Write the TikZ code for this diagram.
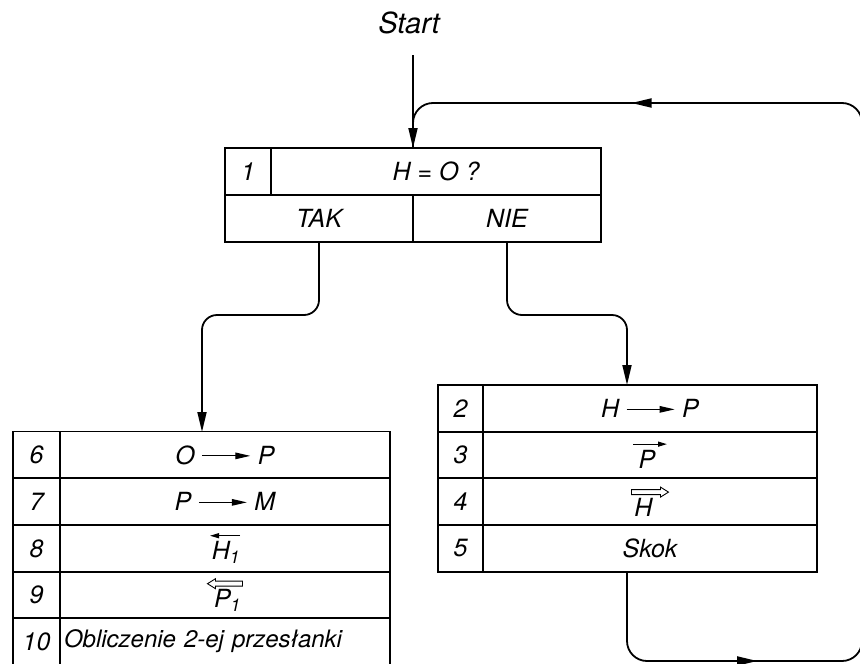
\documentclass[tikz,border=0pt]{standalone}
\usepackage{fontspec}
\setmainfont{TeX Gyre Heros}
\usepackage{tikz}
\usetikzlibrary{positioning}
\usetikzlibrary{arrows.meta,decorations.markings}

\tikzset{glyph/.style={draw=none,inner sep=0pt,outer sep=0pt,minimum width=0pt,minimum height=0pt}}

% long arrow inside a row
\newcommand{\lngarr}{\tikz[baseline=-0.33em]\draw[line width=1.2pt,-{Triangle[length=15pt,width=6.5pt]}] (0pt,0pt) -- (48pt,0pt);}
% thin arrow over a letter: text, from, to
\newcommand{\overarr}[3]{\tikz[baseline=(v.base)]{\node[glyph] (v) {#1};
  \draw[line width=1.2pt,-{Triangle[length=9pt,width=5pt]}] ([xshift=#2,yshift=6pt]v.north) -- ([xshift=#3,yshift=6pt]v.north);}}
% hollow arrow over a letter: text, tail, neck, tip
\newcommand{\hollowarr}[4]{\tikz[baseline=(v.base)]{\node[glyph] (v) {#1};
  \begin{scope}[shift={(v.north)}]
  \draw[line width=0.9pt] (#2,3.5pt) -- (#3,3.5pt) -- (#3,1pt) -- (#4,6pt) -- (#3,11pt) -- (#3,8.5pt) -- (#2,8.5pt) -- cycle;
  \end{scope}}}

\begin{document}
\begin{tikzpicture}[x=1pt,y=-1pt,
    cell/.style = {draw,line width=1.8pt,inner sep=0pt,outer sep=0pt,minimum height=47pt,
                   font=\fontsize{25}{28}\selectfont\itshape},
    arr/.style = {line width=1.8pt,rounded corners=15pt,-{Triangle[length=20pt,width=9pt]}}]

    \useasboundingbox (0,0) rectangle (860,664);

    \node[font=\fontsize{29}{32}\selectfont\itshape] (start) at (409,23) {Start};
    \coordinate (s0) at (413,55);
    \coordinate (in1) at (413,148);

    % decision
    \node[cell,minimum width=46pt]  (n1)  at (248,171.5) {1};
    \node[cell,minimum width=330pt] (q1)  at (436,171.5) {H = O ?};
    \node[cell,minimum width=188pt] (tak) at (319,218.5) {TAK};
    \node[cell,minimum width=188pt] (nie) at (507,218.5) {NIE};

    % right column
    \node[cell,minimum width=45pt]  (n2) at (460.5,408.5) {2};
    \node[cell,minimum width=334pt] (r2) at (650,408.5) {H \lngarr\ P};
    \node[cell,minimum width=45pt]  (n3) at (460.5,455) {3};
    \node[cell,minimum width=334pt] (r3) at (650,455) {\overarr{P}{-14pt}{20pt}};
    \node[cell,minimum width=45pt]  (n4) at (460.5,501.5) {4};
    \node[cell,minimum width=334pt] (r4) at (650,501.5) {\hollowarr{H}{-12pt}{17pt}{25pt}};
    \node[cell,minimum width=45pt]  (n5) at (460.5,548.5) {5};
    \node[cell,minimum width=334pt] (r5) at (650,548.5) {Skok};

    % left column
    \node[cell,minimum width=47pt]  (n6)  at (36.5,455) {6};
    \node[cell,minimum width=330pt] (r6)  at (225,455) {O \lngarr\ P};
    \node[cell,minimum width=47pt]  (n7)  at (36.5,501.5) {7};
    \node[cell,minimum width=330pt] (r7)  at (225,501.5) {P \lngarr\ M};
    \node[cell,minimum width=47pt]  (n8)  at (36.5,548.5) {8};
    \node[cell,minimum width=330pt] (r8)  at (225,548.5) {\overarr{H\textsubscript{1}}{14pt}{-16pt}};
    \node[cell,minimum width=47pt]  (n9)  at (36.5,595) {9};
    \node[cell,minimum width=330pt] (r9)  at (225,595) {\hollowarr{P\textsubscript{1}}{15pt}{-12pt}{-20pt}};
    \node[cell,minimum width=47pt]  (n10) at (36.5,641.5) {10};
    \node[cell,text width=322pt,inner xsep=4pt,align=left,
          font=\fontsize{24}{28}\selectfont\itshape] (r10) at (225,641.5) {Obliczenie 2-ej przesłanki};

    \coordinate (tk) at (202,432);
    \coordinate (nk) at (627,385);

    \draw[arr] (s0) -- (in1);
    \draw[arr] (tak.south) -- ++(0,73) -| (tk);
    \draw[arr] (nie.south) -- ++(0,73) -| (nk);
    \draw[line width=1.8pt,rounded corners=20pt,postaction={decorate},
          decoration={markings,
            mark=at position 0.157 with {\arrow{Triangle[length=20pt,width=9pt]}},
            mark=at position 0.81 with {\arrow{Triangle[length=20pt,width=9pt]}}}]
        (r5.south -| nk) -- ++(0,89) -- ++(235,0) -- ++(0,-558) -| (in1);

\end{tikzpicture}
\end{document}
